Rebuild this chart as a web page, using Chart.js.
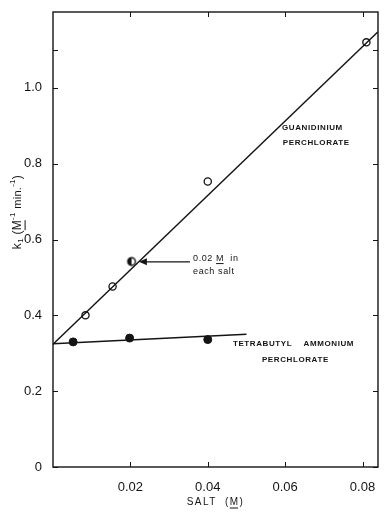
<!DOCTYPE html>
<html>
<head>
<meta charset="utf-8">
<script src="https://cdn.jsdelivr.net/npm/chart.js@4.4.1/dist/chart.umd.min.js"></script>
<style>
  html, body { margin: 0; padding: 0; background: #fff; }
  #wrap { width: 384px; height: 515px; }
</style>
</head>
<body>
<div id="wrap"><canvas id="chart" width="384" height="515"></canvas></div>
<script>
// salt concentration (M) vs. rate constant k1
const guanSalt = [0.0084, 0.0154, 0.0400, 0.0810];
const guanK = [0.400, 0.476, 0.753, 1.120];
const mixSalt = [0.0203];          // 0.02 M in each salt
const mixK = [0.542];
const tbaSalt = [0.0052, 0.0198, 0.0400];
const tbaK = [0.330, 0.340, 0.336];

// fitted lines
const guanFitX = [0, 0.084];
const guanFitY = [0.324, 1.148];
const tbaFitX = [0, 0.050];
const tbaFitY = [0.325, 0.350];

// axes
const xTicks = [0.02, 0.04, 0.06, 0.08];
const xTickLabels = ['0.02', '0.04', '0.06', '0.08'];
const yTicks = [0, 0.2, 0.4, 0.6, 0.8, 1.0, 1.1];
const yTickLabels = ['0', '0.2', '0.4', '0.6', '0.8', '1.0', ''];

const INK = '#141414';
const FONT = '"Liberation Sans", Arial, sans-serif';

function pts(xs, ys) {
    return xs.map((x, i) => ({ x: x, y: ys[i] }));
}

// circle with the left half filled
function halfDot(r) {
    const c = document.createElement('canvas');
    const s = Math.ceil(r * 2 + 4);
    c.width = s; c.height = s;
    const g = c.getContext('2d');
    const m = s / 2;
    g.beginPath();
    g.arc(m, m, r, Math.PI / 2, Math.PI * 1.5);
    g.closePath();
    g.fillStyle = INK;
    g.fill();
    g.beginPath();
    g.arc(m, m, r, 0, Math.PI * 2);
    g.lineWidth = 1.4;
    g.strokeStyle = INK;
    g.stroke();
    return c;
}

// text notes, placed in data units
const notes = [
    { text: 'GUANIDINIUM', x: 0.0592, y: 0.894 },
    { text: 'PERCHLORATE', x: 0.0594, y: 0.854 },
    { text: 'TETRABUTYL    AMMONIUM', x: 0.0465, y: 0.324 },
    { text: 'PERCHLORATE', x: 0.0540, y: 0.282 }
];

// draws a run of text pieces (sub/superscripts, underline) centred on 0,0
function drawRich(ctx, parts, spacing) {
    ctx.letterSpacing = spacing + 'px';
    let total = 0;
    parts.forEach(p => {
        ctx.font = p.size + 'px ' + FONT;
        p.w = ctx.measureText(p.text).width;
        total += p.w;
    });
    let x = -total / 2;
    ctx.textAlign = 'left';
    ctx.textBaseline = 'middle';
    parts.forEach(p => {
        ctx.font = p.size + 'px ' + FONT;
        ctx.fillText(p.text, x, p.dy || 0);
        if (p.underline) {
            ctx.fillRect(x, (p.dy || 0) + p.size * 0.55, p.w - spacing, 1);
        }
        x += p.w;
    });
    ctx.letterSpacing = '0px';
}

const decorations = {
    id: 'decorations',
    beforeDatasetsDraw(chart) {
        const ctx = chart.ctx;
        const a = chart.chartArea;
        const xs = chart.scales.x;
        const ys = chart.scales.y;
        ctx.save();
        ctx.strokeStyle = INK;
        ctx.lineWidth = 1.4;
        ctx.strokeRect(a.left, a.top, a.right - a.left, a.bottom - a.top);
        ctx.lineWidth = 1;
        ctx.beginPath();
        xTicks.forEach(v => {
            const px = Math.round(xs.getPixelForValue(v)) + 0.5;
            ctx.moveTo(px, a.bottom); ctx.lineTo(px, a.bottom - 5);
            ctx.moveTo(px, a.top); ctx.lineTo(px, a.top + 5);
        });
        yTicks.forEach(v => {
            const py = Math.round(ys.getPixelForValue(v)) + 0.5;
            ctx.moveTo(a.left, py); ctx.lineTo(a.left + 5, py);
            ctx.moveTo(a.right, py); ctx.lineTo(a.right - 5, py);
        });
        ctx.stroke();
        ctx.restore();
    },
    afterDatasetsDraw(chart) {
        const ctx = chart.ctx;
        const xs = chart.scales.x;
        const ys = chart.scales.y;
        const a = chart.chartArea;
        ctx.save();
        ctx.fillStyle = INK;
        ctx.strokeStyle = INK;

        // curve labels
        ctx.font = 'bold 8px ' + FONT;
        ctx.letterSpacing = '0.6px';
        ctx.textAlign = 'left';
        ctx.textBaseline = 'middle';
        notes.forEach(n => {
            ctx.fillText(n.text, xs.getPixelForValue(n.x), ys.getPixelForValue(n.y));
        });
        ctx.letterSpacing = '0px';

        // arrow pointing at the mixed-salt run
        const ay = ys.getPixelForValue(0.541);
        const ax0 = xs.getPixelForValue(0.0354);
        const ax1 = xs.getPixelForValue(0.0222);
        ctx.lineWidth = 1.2;
        ctx.beginPath();
        ctx.moveTo(ax0, ay); ctx.lineTo(ax1 + 4, ay);
        ctx.stroke();
        ctx.beginPath();
        ctx.moveTo(ax1, ay); ctx.lineTo(ax1 + 8, ay - 3.5); ctx.lineTo(ax1 + 8, ay + 3.5);
        ctx.closePath();
        ctx.fill();

        ctx.save();
        ctx.translate(xs.getPixelForValue(0.0362), ys.getPixelForValue(0.551));
        ctx.font = '9px ' + FONT;
        ctx.textAlign = 'left';
        ctx.textBaseline = 'middle';
        ctx.letterSpacing = '0.6px';
        ctx.fillText('0.02', 0, 0);
        let w = ctx.measureText('0.02 ').width;
        ctx.fillText('M', w, 0);
        const mw = ctx.measureText('M').width;
        ctx.fillRect(w, 5, mw - 0.6, 1);
        ctx.fillText('  in', w + mw, 0);
        ctx.fillText('each salt', 0, 13);
        ctx.restore();

        // y axis title
        ctx.save();
        ctx.translate(18, 212);
        ctx.rotate(-Math.PI / 2);
        drawRich(ctx, [
            { text: 'k', size: 12 },
            { text: '1', size: 8, dy: 3 },
            { text: ' (', size: 12 },
            { text: 'M', size: 12, underline: true },
            { text: '-1', size: 8, dy: -5 },
            { text: ' min.', size: 11 },
            { text: '-1', size: 8, dy: -5 },
            { text: ')', size: 12 }
        ], 0.3);
        ctx.restore();

        // x axis title
        ctx.save();
        ctx.translate((a.left + a.right) / 2, 502);
        drawRich(ctx, [
            { text: 'SALT  (', size: 10 },
            { text: 'M', size: 10, underline: true },
            { text: ')', size: 10 }
        ], 1.4);
        ctx.restore();

        ctx.restore();
    }
};

new Chart(document.getElementById('chart'), {
    type: 'scatter',
    data: {
        datasets: [
            {
                label: 'guanidinium fit',
                data: pts(guanFitX, guanFitY),
                showLine: true,
                borderColor: INK,
                borderWidth: 1.4,
                pointRadius: 0
            },
            {
                label: 'tetrabutylammonium fit',
                data: pts(tbaFitX, tbaFitY),
                showLine: true,
                borderColor: INK,
                borderWidth: 1.4,
                pointRadius: 0
            },
            {
                label: 'guanidinium perchlorate',
                data: pts(guanSalt, guanK),
                pointRadius: 3.6,
                pointBackgroundColor: '#fff',
                pointBorderColor: INK,
                pointBorderWidth: 1.3
            },
            {
                label: 'both salts',
                data: pts(mixSalt, mixK),
                pointStyle: halfDot(3.8)
            },
            {
                label: 'tetrabutyl ammonium perchlorate',
                data: pts(tbaSalt, tbaK),
                pointRadius: 4,
                pointBackgroundColor: INK,
                pointBorderColor: INK,
                pointBorderWidth: 1
            }
        ]
    },
    options: {
        responsive: false,
        animation: false,
        devicePixelRatio: 1,
        layout: { padding: { top: 12, right: 6, left: 0, bottom: 0 } },
        plugins: {
            legend: { display: false },
            tooltip: { enabled: false }
        },
        scales: {
            x: {
                type: 'linear',
                min: 0,
                max: 0.084,
                grid: { display: false },
                border: { display: false },
                afterBuildTicks: s => { s.ticks = xTicks.map(v => ({ value: v })); },
                afterFit: s => { s.height = 48; },
                ticks: {
                    padding: 5,
                    maxRotation: 0,
                    color: INK,
                    font: { family: FONT, size: 13 },
                    callback: v => xTickLabels[xTicks.indexOf(v)]
                }
            },
            y: {
                type: 'linear',
                min: 0,
                max: 1.2,
                grid: { display: false },
                border: { display: false },
                afterBuildTicks: s => { s.ticks = yTicks.map(v => ({ value: v })); },
                afterFit: s => { s.width = 53; },
                ticks: {
                    padding: 3,
                    color: INK,
                    font: { family: FONT, size: 13 },
                    callback: v => yTickLabels[yTicks.indexOf(v)]
                }
            }
        }
    },
    plugins: [decorations]
});
</script>
</body>
</html>
